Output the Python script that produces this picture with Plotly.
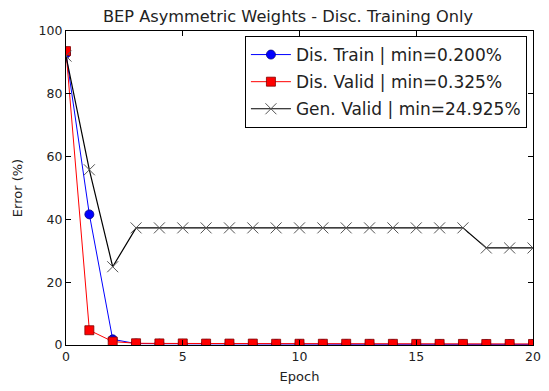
import plotly.graph_objects as go

epochs = list(range(21))
dis_train = [92.8, 41.6, 1.8, 0.45, 0.4, 0.35, 0.35, 0.3, 0.3, 0.3, 0.3, 0.28, 0.25, 0.25, 0.25, 0.22, 0.22, 0.2, 0.2, 0.2, 0.2]
dis_valid = [93.6, 4.7, 1.1, 0.55, 0.5, 0.5, 0.45, 0.45, 0.45, 0.4, 0.4, 0.4, 0.4, 0.375, 0.375, 0.35, 0.35, 0.35, 0.325, 0.325, 0.325]
gen_valid = [92.0, 55.8, 24.925, 37.3, 37.3, 37.3, 37.3, 37.3, 37.3, 37.3, 37.3, 37.3, 37.3, 37.3, 37.3, 37.3, 37.3, 37.3, 30.9, 30.9, 30.9]
names = ["Dis. Train | min=0.200%", "Dis. Valid | min=0.325%", "Gen. Valid | min=24.925%"]

fig = go.Figure()
fig.add_trace(go.Scatter(x=epochs, y=dis_train, mode="lines+markers", name=names[0],
                         legendgroup="a",
                         line=dict(color="#0000ff", width=1),
                         marker=dict(symbol="circle", size=9, color="#0000ff",
                                     line=dict(color="#000080", width=0.8))))
fig.add_trace(go.Scatter(x=epochs, y=dis_valid, mode="lines+markers", name=names[1],
                         legendgroup="b",
                         line=dict(color="#ff0000", width=1),
                         marker=dict(symbol="square", size=9, color="#ff0000",
                                     line=dict(color="#800000", width=0.8))))
fig.add_trace(go.Scatter(x=epochs, y=gen_valid, mode="lines+markers", name=names[2],
                         legendgroup="c",
                         line=dict(color="#000000", width=1.2),
                         marker=dict(symbol="x-thin", size=11, color="#555555",
                                     line=dict(color="#555555", width=1))))

# page body adds an 8px offset; figure is sized/margined to compensate
fig.update_layout(
    width=541, height=383,
    margin=dict(l=58, r=8, t=23, b=46),
    paper_bgcolor="white", plot_bgcolor="white",
    font=dict(family="DejaVu Sans", size=12, color="#222222"),
    title=dict(text="BEP Asymmetric Weights - Disc. Training Only",
               x=280 / 541, xref="container", xanchor="center",
               y=1 - 8.5 / 383, yref="container", yanchor="middle",
               font=dict(size=16.2, color="#222222")),
    showlegend=True,
    legend=dict(x=0.987, y=0.984, xanchor="right", yanchor="top",
                bordercolor="black", borderwidth=1, bgcolor="white",
                font=dict(size=17, color="#222222"),
                traceorder="grouped", tracegroupgap=2,
                itemwidth=40),
    xaxis=dict(range=[0, 20], tickvals=[0, 5, 10, 15, 20], ticks="inside", ticklen=5,
               mirror="ticks", showline=True, linecolor="black", linewidth=1.2,
               showgrid=False, zeroline=False, tickcolor="black",
               tickfont=dict(size=12.5),
               title=dict(text="Epoch", font=dict(size=13), standoff=8)),
    yaxis=dict(range=[0, 100], tickvals=[0, 20, 40, 60, 80, 100], ticks="inside", ticklen=5,
               mirror="ticks", showline=True, linecolor="black", linewidth=1.2,
               showgrid=False, zeroline=False, tickcolor="black",
               tickfont=dict(size=12.5),
               title=dict(text="Error (%)", font=dict(size=13), standoff=12)),
)

fig.write_html("out.html")
